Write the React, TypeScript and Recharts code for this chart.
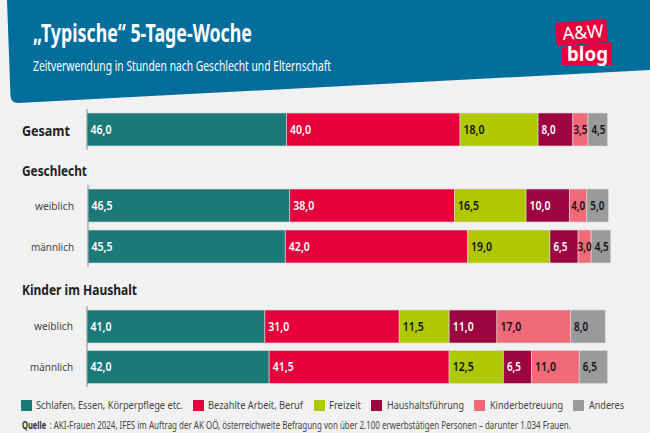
import { BarChart, Bar, XAxis, YAxis, LabelList } from 'recharts';

const rowLabels = ['Gesamt', 'weiblich', 'männlich', 'weiblich', 'männlich'];

const schlafen = [46.0, 46.5, 45.5, 41.0, 42.0];
const arbeit = [40.0, 38.0, 42.0, 31.0, 41.5];
const freizeit = [18.0, 16.5, 19.0, 11.5, 12.5];
const haushalt = [8.0, 10.0, 6.5, 11.0, 6.5];
const kinder = [3.5, 4.0, 3.0, 17.0, 11.0];
const anderes = [4.5, 5.0, 4.5, 8.0, 6.5];

const seriesNames = [
  'Schlafen, Essen, Körperpflege etc.',
  'Bezahlte Arbeit, Beruf',
  'Freizeit',
  'Haushaltsführung',
  'Kinderbetreuung',
  'Anderes',
];
const seriesValues = [schlafen, arbeit, freizeit, haushalt, kinder, anderes];
const seriesColors = ['#1b7a78', '#e6003c', '#afc800', '#9c0540', '#f06a78', '#9a9a9a'];
const labelColors = ['#fff', '#fff', '#111', '#fff', '#111', '#111'];

const rows = rowLabels.map((label, i) => {
  const row: Record<string, string | number> = { label };
  seriesNames.forEach((name, s) => {
    row[name] = seriesValues[s][i];
  });
  return row;
});

const FONT = '"Noto Sans", sans-serif';
const DOMAIN_MAX = 129.8;

// swatch x, text x, text width of each legend entry
const legendLayout = [
  [21, 36, 147],
  [193, 208, 95],
  [314, 329, 32],
  [371, 387, 77],
  [474, 490, 73],
  [573, 589, 35],
];

function BarLabel(props: any) {
  const { x, y, width, height, value, labelColor } = props;
  const narrow = width < 18;
  return (
    <text
      x={narrow ? x + width / 2 : x + 3.5}
      y={y + height / 2 + 4}
      textAnchor={narrow ? 'middle' : 'start'}
      fill={labelColor}
      fontSize={12}
      fontWeight={600}
      fontFamily={FONT}
      textLength={Number(value) < 10 ? 14 : 21}
      lengthAdjust="spacingAndGlyphs"
    >
      {Number(value).toFixed(1).replace('.', ',')}
    </text>
  );
}

function RowTick(props: any) {
  const { x, y, payload } = props;
  if (payload.value === 'Gesamt') {
    return (
      <text x={22} y={y + 6} fontSize={15} fontWeight={700} fill="#222" fontFamily={FONT} textLength={48} lengthAdjust="spacingAndGlyphs">
        {payload.value}
      </text>
    );
  }
  return (
    <text x={x - 6} y={y + 4} textAnchor="end" fontSize={11.5} fill="#444" fontFamily={FONT} textLength={payload.value === 'weiblich' ? 39 : 43} lengthAdjust="spacingAndGlyphs">
      {payload.value}
    </text>
  );
}

function Block({ data, top, left = 0, height }: { data: typeof rows; top: number; left?: number; height: number }) {
  return (
    <div style={{ position: 'absolute', left, top }}>
      <BarChart
        width={650}
        height={height}
        data={data}
        layout="vertical"
        margin={{ top: 0, right: 0, bottom: 0, left: 0 }}
        barCategoryGap={4}
      >
        <XAxis type="number" domain={[0, DOMAIN_MAX]} hide />
        <YAxis
          type="category"
          dataKey="label"
          width={87}
          tickLine={false}
          tick={<RowTick />}
          axisLine={{ stroke: '#8a8a8a', strokeWidth: 1 }}
          allowDuplicatedCategory={false}
        />
        {seriesNames.map((name, s) => (
          <Bar
            key={name}
            dataKey={name}
            stackId="a"
            fill={seriesColors[s]}
            barSize={33}
            stroke="#dcdcdc"
            strokeWidth={0.6}
            isAnimationActive={false}
          >
            <LabelList dataKey={name} content={<BarLabel labelColor={labelColors[s]} />} />
          </Bar>
        ))}
      </BarChart>
    </div>
  );
}

export default function App() {
  return (
    <div style={{ position: 'absolute', left: 0, top: 0, width: 650, height: 433, background: '#f1f1f1', overflow: 'hidden' }}>
      <Block data={rows.slice(0, 1)} top={108.5} height={41} />
      <Block data={rows.slice(1, 3)} top={185} left={0.7} height={82} />
      <Block data={rows.slice(3, 5)} top={305.5} height={81} />

      <svg width={650} height={433} style={{ position: 'absolute', left: 0, top: 0, pointerEvents: 'none' }} fontFamily={FONT}>
        <path d="M7 0 L650 0 L650 70 L18 103 Q11 103 10.5 96 Z" fill="#036d9c" />
        <text x={33} y={42} fill="#fff" fontSize={25} fontWeight={700} textLength={219} lengthAdjust="spacingAndGlyphs">
          „Typische“ 5-Tage-Woche
        </text>
        <text x={33} y={71} fill="#fff" fontSize={13.5} textLength={298} lengthAdjust="spacingAndGlyphs">
          Zeitverwendung in Stunden nach Geschlecht und Elternschaft
        </text>

        <polygon points="555,23 606,19 608,42 557,46" fill="#e6003c" />
        <polygon points="562,47 612,42 612,65 562,65" fill="#e6003c" />
        <text x={563} y={40} fill="#fff" fontSize={18} textLength={41} lengthAdjust="spacingAndGlyphs" transform="rotate(-4 563 40)">A&amp;W</text>
        <text x={567} y={61} fill="#fff" fontSize={19} fontWeight={700} textLength={41} lengthAdjust="spacingAndGlyphs">blog</text>

        <text x={22} y={176} fontSize={14} fontWeight={700} fill="#222" textLength={65} lengthAdjust="spacingAndGlyphs">Geschlecht</text>
        <text x={22} y={295} fontSize={14} fontWeight={700} fill="#222" textLength={115} lengthAdjust="spacingAndGlyphs">Kinder im Haushalt</text>

        {seriesNames.map((name, s) => (
          <g key={name}>
            <rect x={legendLayout[s][0]} y={400} width={11} height={11} fill={seriesColors[s]} />
            <text x={legendLayout[s][1]} y={409} fontSize={11.5} fill="#444" textLength={legendLayout[s][2]} lengthAdjust="spacingAndGlyphs">
              {name}
            </text>
          </g>
        ))}
        <text transform="translate(22 429) scale(0.72 1)" fontSize={10.5} fontWeight={700} fill="#333">Quelle</text>
        <text transform="translate(49.5 429) scale(0.76 1)" fontSize={10.5} fill="#444">
          : AKI-Frauen 2024, IFES im Auftrag der AK OÖ, österreichweite Befragung von über 2.100 erwerbstätigen Personen – darunter 1.034 Frauen.
        </text>
      </svg>
    </div>
  );
}
